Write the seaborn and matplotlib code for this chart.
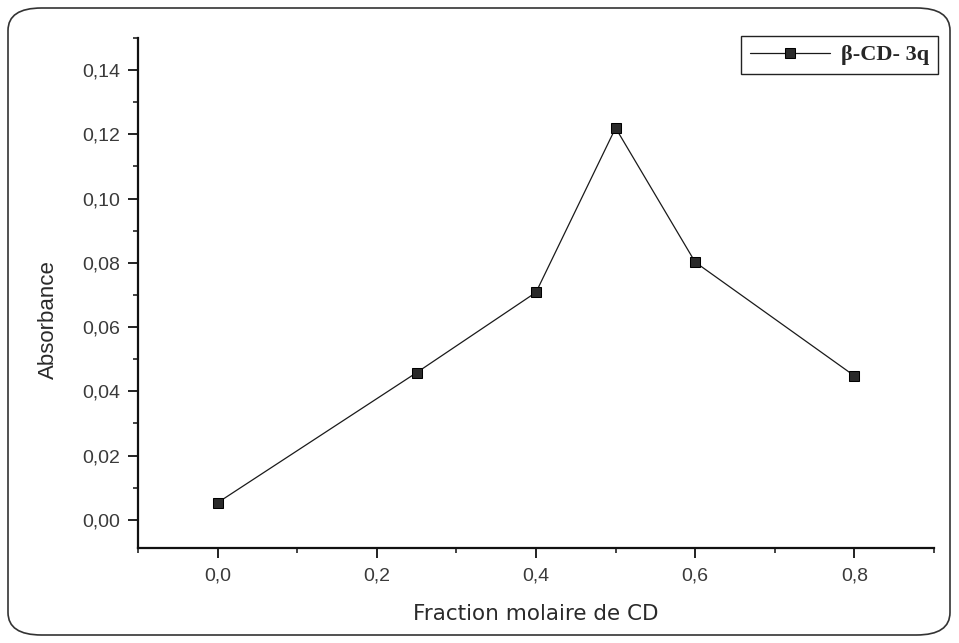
import matplotlib
matplotlib.use("Agg")
import matplotlib.pyplot as plt
from matplotlib.patches import FancyBboxPatch
from matplotlib.ticker import MultipleLocator, FuncFormatter
import seaborn as sns
import pandas as pd

# Job's plot data: molar fraction of cyclodextrin vs absorbance
fraction = [0.0, 0.25, 0.4, 0.5, 0.6, 0.8]
absorbance = [0.0053, 0.0458, 0.0708, 0.1220, 0.0802, 0.0448]
series_name = "β-CD- 3q"

df = pd.DataFrame({"x": fraction, "y": absorbance, "s": series_name})

sns.set_style("ticks")
plt.rcParams["font.family"] = ["Liberation Sans", "DejaVu Sans"]

fig = plt.figure(figsize=(9.59, 6.43), dpi=100)
ax = fig.add_axes([138 / 959, 1 - 548 / 643, (934 - 138) / 959, (548 - 38) / 643])

sns.lineplot(data=df, x="x", y="y", hue="s", palette=["#1a1a1a"], marker="s",
             markersize=7, markerfacecolor="#2a2a2a", markeredgecolor="#000000",
             linewidth=0.9, ax=ax, legend=True)

ax.set_xlim(-0.1, 0.9)
ax.set_ylim(-0.0088, 0.150)
ax.xaxis.set_major_locator(MultipleLocator(0.2))
ax.xaxis.set_minor_locator(MultipleLocator(0.1))
ax.yaxis.set_major_locator(MultipleLocator(0.02))
ax.yaxis.set_minor_locator(MultipleLocator(0.01))
ax.xaxis.set_major_formatter(FuncFormatter(lambda v, p: f"{v:.1f}".replace(".", ",")))
ax.yaxis.set_major_formatter(FuncFormatter(lambda v, p: f"{v:.2f}".replace(".", ",")))

sns.despine(ax=ax)
for side in ("left", "bottom"):
    ax.spines[side].set_linewidth(1.6)
    ax.spines[side].set_color("#111111")
ax.tick_params(which="major", length=7, width=1.3, color="#111111",
               labelsize=14, labelcolor="#3a3a3a", pad=6)
ax.tick_params(which="minor", length=3.5, width=1.1, color="#111111")
ax.tick_params(axis="x", which="major", pad=7)

ax.set_xlabel("Fraction molaire de CD", fontsize=15.5, color="#2a2a2a",
              family=["DejaVu Sans"])
ax.set_ylabel("Absorbance", fontsize=16, color="#2a2a2a")
ax.xaxis.set_label_coords(0.5, -0.11)
ax.yaxis.set_label_coords(-0.099, 0.447)
ax.patch.set_alpha(0)

leg = ax.legend(loc="upper right", bbox_to_anchor=(1.005, 1.004), frameon=True,
                fancybox=False, edgecolor="#222222", framealpha=1,
                prop={"family": ["Liberation Serif", "DejaVu Serif"], "weight": "bold", "size": 16},
                handlelength=3.6, borderpad=0.4, handletextpad=0.5, borderaxespad=0.0)
leg.get_frame().set_linewidth(1.0)

# rounded outer frame around the whole figure
frame = FancyBboxPatch((8 / 959, 8 / 643), (950 - 8) / 959, (635 - 8) / 643,
                       boxstyle="round,pad=0,rounding_size=0.035",
                       transform=fig.transFigure, fill=False,
                       edgecolor="#333333", linewidth=1.2)
fig.patches.append(frame)

fig.savefig("out.png", dpi=100)
